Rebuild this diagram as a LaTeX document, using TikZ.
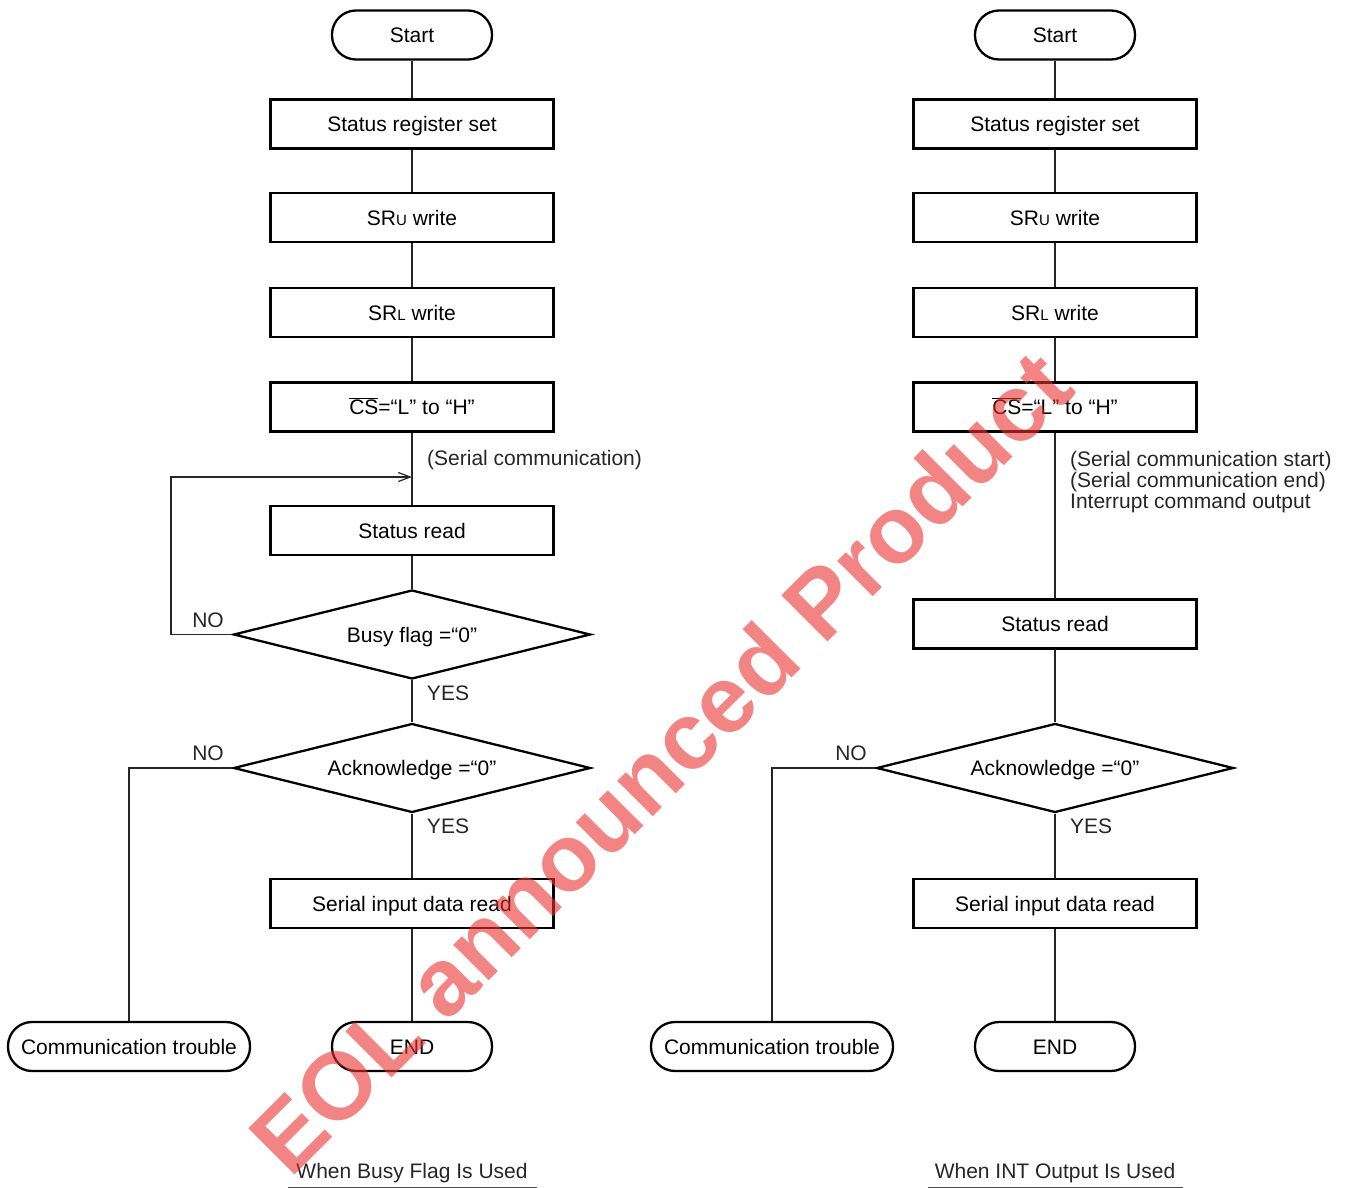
\documentclass[tikz,border=0pt]{standalone}
\usepackage{fontspec}
\setmainfont{Liberation Sans}
\usetikzlibrary{shapes.geometric,arrows.meta}
\definecolor{wm}{RGB}{235,50,50}
\tikzset{
  txt/.style={font=\fontsize{21}{21}\selectfont, inner sep=0pt},
  fixed/.style={text height=15pt, text depth=0pt},
  stepbox/.style={txt, fixed, draw, line width=2.3pt, minimum width=283pt, minimum height=49pt},
  term/.style={txt, fixed, draw, line width=2.3pt, rounded corners=24pt, minimum width=160pt, minimum height=49pt},
  decision/.style={txt, fixed, draw, line width=2.3pt, diamond, aspect=4, minimum width=357pt, minimum height=89pt},
  conn/.style={line width=1.2pt, draw=black!85},
  lbl/.style={txt, text=black!85},
}
\newcommand{\mysr}[1]{SR{\fontsize{15}{15}\selectfont #1}}
\newcommand{\mycs}{$\overline{\hbox{CS}}$=“L” to “H”}
\begin{document}
\begin{tikzpicture}[x=1pt,y=-1pt]
\useasboundingbox (0,0) rectangle (1352,1188);
% ---------------- left chart ----------------
\node[term] (start) at (412,35) {Start};
\node[stepbox] (srs) at (412,124) {Status register set};
\node[stepbox] (sru) at (412,217.5) {\mysr{U} write};
\node[stepbox] (srl) at (412,312.5) {\mysr{L} write};
\node[stepbox] (cs) at (412,407) {\mycs};
\node[stepbox] (sr) at (412,530.5) {Status read};
\node[decision] (busy) at (412,634.5) {Busy flag =“0”};
\node[decision] (ack) at (412,768) {Acknowledge =“0”};
\node[stepbox] (sidr) at (412,903.5) {Serial input data read};
\node[term] (end) at (412,1046.5) {END};
\node[term, minimum width=242pt] (ct) at (129,1046.5) {Communication trouble};
\coordinate (loopin) at (412,477);
\draw[conn] (start) -- (srs);
\draw[conn] (srs) -- (sru);
\draw[conn] (sru) -- (srl);
\draw[conn] (srl) -- (cs);
\draw[conn] (cs) -- (sr);
\draw[conn] (sr) -- (busy);
\draw[conn] (busy) -- (ack);
\draw[conn] (ack) -- (sidr);
\draw[conn] (sidr) -- (end);
\draw[conn, -{Straight Barb[length=12pt,width=9pt,line width=1.2pt]}] (busy.west) -- (171,634.5) |- (loopin);
\draw[conn] (ack.west) -| (ct.north);
\node[lbl, anchor=west] (sc) at (427,460) {(Serial communication)};
\node[lbl] (no1) at (208,620) {NO};
\node[lbl] (yes1) at (448,693) {YES};
\node[lbl] (no2) at (208,753) {NO};
\node[lbl] (yes2) at (448,826) {YES};
\node[lbl] (cap1) at (412,1173) {When Busy Flag Is Used};
\draw[line width=1pt, black!70] (288,1187) -- (537,1187);
% ---------------- right chart ----------------
\node[term] (startR) at (1055,35) {Start};
\node[stepbox] (srsR) at (1055,124) {Status register set};
\node[stepbox] (sruR) at (1055,217.5) {\mysr{U} write};
\node[stepbox] (srlR) at (1055,312.5) {\mysr{L} write};
\node[stepbox] (csR) at (1055,407) {\mycs};
\node[stepbox] (srR) at (1055,624) {Status read};
\node[decision] (ackR) at (1055,768) {Acknowledge =“0”};
\node[stepbox] (sidrR) at (1055,903.5) {Serial input data read};
\node[term] (endR) at (1055,1046.5) {END};
\node[term, minimum width=242pt] (ctR) at (772,1046.5) {Communication trouble};
\draw[conn] (startR) -- (srsR);
\draw[conn] (srsR) -- (sruR);
\draw[conn] (sruR) -- (srlR);
\draw[conn] (srlR) -- (csR);
\draw[conn] (csR) -- (srR);
\draw[conn] (srR) -- (ackR);
\draw[conn] (ackR) -- (sidrR);
\draw[conn] (sidrR) -- (endR);
\draw[conn] (ackR.west) -| (ctR.north);
\node[lbl, anchor=north west, align=left, font=\fontsize{21}{21}\selectfont] (notes) at (1070,451)
  {(Serial communication start)\\(Serial communication end)\\Interrupt command output};
\node[lbl] (no3) at (851,753) {NO};
\node[lbl] (yes3) at (1091,826) {YES};
\node[lbl] (cap2) at (1055,1173) {When INT Output Is Used};
\draw[line width=1pt, black!70] (928,1187) -- (1183,1187);
% ---------------- watermark ----------------
\node[anchor=base west, rotate=45, inner sep=0pt, text=wm, text opacity=0.6,
      font=\fontsize{95}{95}\selectfont\bfseries] (wmark) at (290,1180) {EOL announced Product};
\end{tikzpicture}
\end{document}
